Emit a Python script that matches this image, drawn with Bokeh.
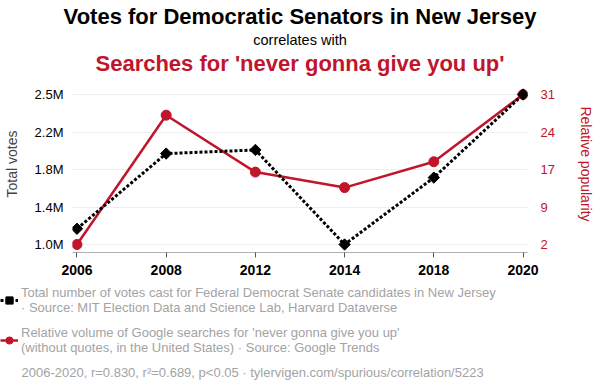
import math
from bokeh.plotting import figure
from bokeh.layouts import column
from bokeh.models import Range1d, LinearAxis, FixedTicker, Title, Legend, LegendItem
from bokeh.embed import file_html
from bokeh.resources import INLINE

years = ["2006", "2008", "2012", "2014", "2018", "2020"]
votes = [1200843, 1951218, 1987680, 1043866, 1711654, 2541178]
popularity = [2, 27, 16, 13, 18, 31]

RED = "#c0152b"
GREY = "#a3a3a3"
FONT = "Liberation Sans"

xs = list(range(len(years)))
vmin, vmax = min(votes), max(votes)
pmin, pmax = min(popularity), max(popularity)
vspan = vmax - vmin
pspan = pmax - pmin
TOP_PAD, BOT_PAD = 19, 8
XPAD = 0.05

p = figure(width=600, height=284, output_backend="svg", toolbar_location=None,
           x_range=Range1d(-XPAD, len(years) - 1 + XPAD),
           y_range=Range1d(vmin - vspan * BOT_PAD / 150, vmax + vspan * TOP_PAD / 150),
           min_border_left=72, min_border_right=73, min_border_top=0,
           min_border_bottom=32)
p.frame_align = False
p.outline_line_color = None
p.background_fill_color = "white"
p.border_fill_color = "white"

p.extra_y_ranges = {"pop": Range1d(pmin - pspan * BOT_PAD / 150, pmax + pspan * TOP_PAD / 150)}

vticks = [vmin + i * vspan / 4 for i in range(5)]
pticks = [pmin + i * pspan / 4 for i in range(5)]

# x axis
xa = p.xaxis[0]
xa.ticker = FixedTicker(ticks=xs)
xa.major_label_overrides = {i: y for i, y in zip(xs, years)}
xa.major_label_text_font = FONT
xa.major_label_text_font_style = "bold"
xa.major_label_text_font_size = "14px"
xa.major_label_text_color = "black"
xa.axis_line_color = "#b0b0b0"
xa.major_tick_line_color = "#555555"
xa.major_tick_in = 0
xa.major_tick_out = 5
xa.minor_tick_line_color = None
xa.major_label_standoff = 7

# left axis
ya = p.yaxis[0]
ya.ticker = FixedTicker(ticks=vticks)
ya.major_label_overrides = {v: f"{v / 1e6:.1f}M" for v in vticks}
ya.axis_label = "Total votes"
ya.axis_label_text_font = FONT
ya.axis_label_text_font_style = "normal"
ya.axis_label_text_font_size = "14px"
ya.axis_label_standoff = 12
ya.major_label_text_font = FONT
ya.major_label_text_font_size = "13px"
ya.major_label_text_color = "black"
ya.axis_line_color = None
ya.major_tick_line_color = None
ya.major_tick_in = 0
ya.major_tick_out = 0
ya.minor_tick_line_color = None
ya.major_label_standoff = 9

# right axis
ra = LinearAxis(y_range_name="pop")
ra.ticker = FixedTicker(ticks=pticks)
ra.major_label_overrides = {v: str(int(math.floor(v + 0.5))) for v in pticks}
ra.axis_label = "Relative popularity"
ra.axis_label_text_font = FONT
ra.axis_label_text_font_style = "normal"
ra.axis_label_text_font_size = "14px"
ra.axis_label_text_color = RED
ra.axis_label_standoff = 20
ra.major_label_text_font = FONT
ra.major_label_text_font_size = "13px"
ra.major_label_text_color = RED
ra.axis_line_color = None
ra.major_tick_line_color = None
ra.major_tick_in = 0
ra.major_tick_out = 0
ra.minor_tick_line_color = None
ra.major_label_standoff = 13
p.add_layout(ra, "right")

p.xgrid.grid_line_color = None
p.ygrid.grid_line_color = "#eeeeee"
p.ygrid.ticker = FixedTicker(ticks=vticks)

RED_LINE = dict(line_color=RED, line_width=2.5)
RED_DOT = dict(marker="circle", size=10, fill_color=RED, line_color=RED)
BLK_LINE = dict(line_color="black", line_width=3, line_dash="3 2")
BLK_DOT = dict(marker="square", angle=math.pi / 4, size=8, fill_color="black", line_color="black")

p.line(xs, popularity, y_range_name="pop", **RED_LINE)
p.scatter(xs, popularity, y_range_name="pop", **RED_DOT)
p.line(xs, votes, **BLK_LINE)
p.scatter(xs, votes, **BLK_DOT)

t3 = Title(text="Searches for 'never gonna give you up'", align="center",
           text_font=FONT, text_font_size="22px", text_font_style="bold",
           text_color=RED, standoff=0)
t2 = Title(text="correlates with", align="center", text_font=FONT,
           text_font_size="14.5px", text_font_style="normal", text_color="black", standoff=1)
t1 = Title(text="Votes for Democratic Senators in New Jersey", align="center",
           text_font=FONT, text_font_size="22px", text_font_style="bold",
           text_color="black", standoff=2)
p.add_layout(t3, "above")
p.add_layout(t2, "above")
p.add_layout(t1, "above")

# legend / source panel (legend renderers reuse the series, kept outside this panel's view)
q = figure(width=600, height=108, output_backend="svg", toolbar_location=None,
           x_range=Range1d(-1, 0), y_range=Range1d(-1, 0),
           x_axis_type=None, y_axis_type=None,
           min_border_left=0, min_border_right=0, min_border_top=1, min_border_bottom=30)
q.frame_align = False
q.outline_line_color = None
q.grid.visible = False
bl = q.line(xs, votes, **BLK_LINE)
bd = q.scatter(xs, votes, **BLK_DOT)
rl = q.line(xs, popularity, **RED_LINE)
rc = q.scatter(xs, popularity, **RED_DOT)

legend = Legend(items=[
    LegendItem(label="Total number of votes cast for Federal Democrat Senate candidates in New Jersey\n· Source: MIT Election Data and Science Lab, Harvard Dataverse",
               renderers=[bl, bd]),
    LegendItem(label="Relative volume of Google searches for 'never gonna give you up'\n(without quotes, in the United States) · Source: Google Trends",
               renderers=[rl, rc]),
], location="top_left")
legend.label_text_font = FONT
legend.label_text_font_size = "13px"
legend.label_text_color = GREY
legend.border_line_color = None
legend.background_fill_alpha = 0
legend.padding = 0
legend.margin = 0
legend.spacing = 10
legend.glyph_width = 18
legend.label_standoff = 3
q.add_layout(legend, "center")

foot = Title(text="2006-2020, r=0.830, r²=0.689, p<0.05 · tylervigen.com/spurious/correlation/5223",
             align="left", offset=21, text_font=FONT, text_font_size="13px",
             text_font_style="normal", text_color=GREY, standoff=0)
q.add_layout(foot, "below")

layout = column(p, q, spacing=0)
open("out.html", "w").write(file_html(layout, INLINE))
